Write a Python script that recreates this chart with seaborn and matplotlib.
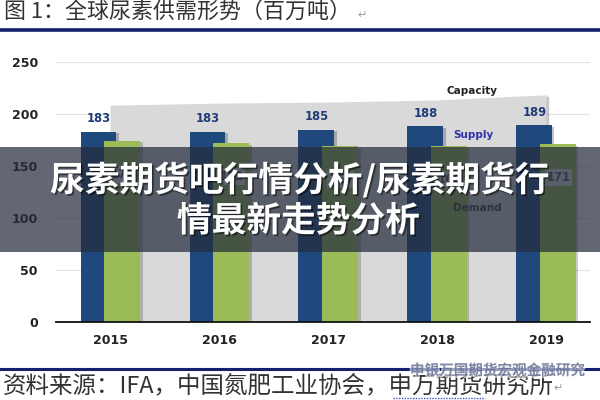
import matplotlib
matplotlib.use("Agg")
import matplotlib.patheffects as pe
import matplotlib.pyplot as plt
import numpy as np
import pandas as pd
import seaborn as sns
from matplotlib.lines import Line2D
from matplotlib.patches import Rectangle

YEARS = ["2015", "2016", "2017", "2018", "2019"]
SUPPLY = [183, 183, 185, 188, 189]
DEMAND = [174, 172, 169, 169, 171]
CAPACITY = [208, 210, 211, 213, 218]
Y_TICKS = [0, 50, 100, 150, 200, 250]

TITLE = "图 1：全球尿素供需形势（百万吨）"
SOURCE = "资料来源：IFA，中国氮肥工业协会，申万期货研究所"
BANNER = ["尿素期货吧行情分析/尿素期货行", "情最新走势分析"]
WATERMARK = "申银万国期货宏观金融研究"

NAVY = "#1f497d"
GREEN = "#9bbb59"
GREY = "#d9d9d9"
RULE = "#13206e"
CJK = ["Noto Sans CJK SC", "DejaVu Sans"]


def fy(y):
    # pixel row (from top) -> figure fraction
    return 1 - y / 400


def setup_style():
    sns.set_theme(style="white")
    plt.rcParams["font.family"] = ["DejaVu Sans", "Noto Sans CJK SC"]
    plt.rcParams["axes.unicode_minus"] = False


def draw_chart(fig):
    ax = fig.add_axes([56 / 600, 78 / 400, 534 / 600, 260 / 400])
    ax.set_facecolor("none")

    df = pd.DataFrame({
        "year": YEARS * 2,
        "value": SUPPLY + DEMAND,
        "series": ["Supply"] * len(YEARS) + ["Demand"] * len(YEARS),
    })
    sns.barplot(data=df, x="year", y="value", hue="series", order=YEARS,
                hue_order=["Supply", "Demand"], palette=[NAVY, GREEN],
                saturation=1, width=0.44, gap=-0.5, errorbar=None,
                legend=False, ax=ax, zorder=3, linewidth=0)
    shadow = [pe.SimplePatchShadow(offset=(1.5, -1), alpha=0.25), pe.Normal()]
    for p in ax.patches:
        p.set_path_effects(shadow)

    area = ax.fill_between(np.arange(len(YEARS)), CAPACITY, color=GREY, lw=0, zorder=2)
    area.set_path_effects([pe.SimplePatchShadow(offset=(2, -1), alpha=0.3), pe.Normal()])

    for bar, v in zip(ax.containers[0], SUPPLY):
        ax.annotate(f"{v}", (bar.get_x() + bar.get_width() / 2, v), xytext=(0, 9.5),
                    textcoords="offset points", ha="center", va="center",
                    fontsize=8.3, fontweight="bold", color="#1f3c78", zorder=5)
    for bar, v in zip(ax.containers[1], DEMAND):
        ax.annotate(f"{v}", (bar.get_x() + bar.get_width() / 2, v), xytext=(0, -24),
                    textcoords="offset points", ha="center", va="center",
                    fontsize=8.3, fontweight="bold", color="#595959", zorder=5,
                    bbox=dict(boxstyle="square,pad=0.15", fc="#e4e4e4", ec="none"))

    ax.text(3.32, 222, "Capacity", ha="center", va="center", fontsize=7.5,
            fontweight="bold", color="#222222", zorder=5)
    ax.text(3.33, 180, "Supply", ha="center", va="center", fontsize=7.5,
            fontweight="bold", color="#3033a8", zorder=5)
    ax.text(3.37, 110, "Demand", ha="center", va="center", fontsize=7.5,
            fontweight="bold", color="#3f3f3f", zorder=5)

    ax.set_ylim(0, 250)
    ax.set_xlim(-0.5, 4.4)
    ax.set_yticks(Y_TICKS)
    ax.set_xticks(np.arange(-0.5, 4, 1), minor=True)
    ax.set_xlabel("")
    ax.set_ylabel("")
    ax.grid(axis="y", color="#e2e2e2", lw=0.8, zorder=0)
    ax.grid(axis="x", visible=False)
    ax.set_axisbelow(True)
    for side in ["top", "left", "right"]:
        ax.spines[side].set_visible(False)
    ax.spines["bottom"].set_color("#111111")
    ax.spines["bottom"].set_linewidth(1.3)
    ax.spines["bottom"].set_zorder(6)
    ax.tick_params(axis="y", length=0, pad=13, labelsize=9, labelcolor="#222222")
    ax.tick_params(axis="x", which="major", length=0, pad=9, labelsize=9, labelcolor="#222222")
    ax.tick_params(axis="x", which="minor", length=4, width=1.2, color="#111111", direction="out")
    for lbl in ax.get_xticklabels() + ax.get_yticklabels():
        lbl.set_fontweight("bold")
    return ax


def draw_page(fig):
    fig.add_artist(Line2D([0, 1], [fy(30), fy(30)], transform=fig.transFigure,
                          color=RULE, lw=2.6))
    fig.add_artist(Line2D([0, 1], [fy(369), fy(369)], transform=fig.transFigure,
                          color=RULE, lw=2.2))
    fig.text(4 / 600, fy(13), TITLE, ha="left", va="center", fontsize=15.8,
             color="#333333", family=CJK)
    fig.text(357 / 600, fy(15), "↵", ha="left", va="center", fontsize=8,
             color="#999999", family=["DejaVu Sans"])
    fig.text(3 / 600, fy(386), SOURCE, ha="left", va="center", fontsize=16.9,
             color="#333333", family=CJK)
    fig.text(553 / 600, fy(388), "↵", ha="left", va="center", fontsize=8,
             color="#999999", family=["DejaVu Sans"])
    fig.add_artist(Line2D([393 / 600, 485 / 600], [fy(398), fy(398)],
                          transform=fig.transFigure, color="#3355cc", lw=1,
                          ls=(0, (1, 1))))
    fig.text(410 / 600, fy(370), WATERMARK, ha="left", va="center", fontsize=10.5,
             fontweight="bold", color="#4a5580", alpha=0.6, family=CJK, zorder=8,
             path_effects=[pe.withStroke(linewidth=2.5, foreground="white")])

    fig.add_artist(Rectangle((0, fy(252)), 1, (252 - 147) / 400, transform=fig.transFigure,
                             facecolor="#252d3d", alpha=0.72, lw=0, zorder=10))
    text_fx = [pe.withSimplePatchShadow(offset=(1.2, -1.2), shadow_rgbFace="black", alpha=0.5)]
    fig.text(0.5, fy(180), BANNER[0], ha="center", va="center", fontsize=25,
             fontweight="bold", color="white", family=CJK, zorder=11, path_effects=text_fx)
    fig.text(0.4975, fy(221), BANNER[1], ha="center", va="center", fontsize=25,
             fontweight="bold", color="white", family=CJK, zorder=11, path_effects=text_fx)


def main():
    setup_style()
    fig = plt.figure(figsize=(6, 4), dpi=100)
    fig.patch.set_facecolor("white")
    draw_chart(fig)
    draw_page(fig)
    fig.savefig("out.png", dpi=100)
    plt.close(fig)


if __name__ == "__main__":
    main()
